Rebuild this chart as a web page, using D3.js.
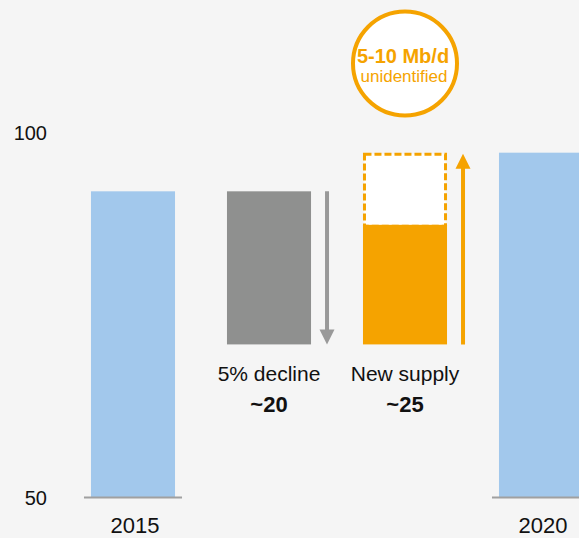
<!DOCTYPE html>
<html>
<head>
<meta charset="utf-8">
<script src="https://cdn.jsdelivr.net/npm/d3@7"></script>
<style>
  body { margin: 0; background: #f5f5f5; }
  svg { display: block; font-family: Arial, "Liberation Sans", sans-serif; }
</style>
</head>
<body>
<script>
// columns of the bridge chart
var steps = ["2015", "decline", "supply", "2020"];
var stepLabels = ["5% decline", "New supply"];
var stepValues = ["~20", "~25"];
// Mb/d
var start2015 = 92,
    declineAmt = 21,
    newSupplyAmt = 16.4,
    unidentifiedAmt = 9.9;
var end2020 = start2015 - declineAmt + newSupplyAmt + unidentifiedAmt;
var yTicks = [50, 100];

var width = 579,
    height = 538;

var orange = "#f5a300",
    blue = "#a2c8ec",
    grey = "#8f908f";

var svg = d3.select("body").append("svg")
    .attr("width", width)
    .attr("height", height);

svg.append("rect")
    .attr("width", width)
    .attr("height", height)
    .attr("fill", "#f5f5f5");

var x = d3.scaleBand()
    .domain(steps)
    .range([65, 609])
    .paddingInner(0.382)
    .paddingOuter(0.191);

var y = d3.scaleLinear()
    .domain([50, 100])
    .range([497.5, 133]);

// y tick labels, no axis line
svg.selectAll(".ytick")
    .data(yTicks)
    .enter().append("text")
    .attr("x", 47)
    .attr("y", d => y(d) + 7)
    .attr("text-anchor", "end")
    .attr("font-size", 20)
    .attr("fill", "#111")
    .text(d => d);

// the two total bars
var totals = [
    {key: "2015", v: start2015},
    {key: "2020", v: end2020}
];

svg.selectAll(".total")
    .data(totals)
    .enter().append("rect")
    .attr("x", d => x(d.key))
    .attr("y", d => y(d.v))
    .attr("width", x.bandwidth())
    .attr("height", d => y(50) - y(d.v))
    .attr("fill", blue);

svg.selectAll(".base")
    .data(totals)
    .enter().append("line")
    .attr("x1", d => x(d.key) - 7)
    .attr("x2", d => x(d.key) + x.bandwidth() + 7)
    .attr("y1", y(50))
    .attr("y2", y(50))
    .attr("stroke", "#a0a0a0")
    .attr("stroke-width", 2);

svg.selectAll(".cat")
    .data(totals)
    .enter().append("text")
    .attr("x", d => x(d.key) + x.bandwidth() / 2 + 2)
    .attr("y", 533)
    .attr("text-anchor", "middle")
    .attr("font-size", 22)
    .attr("fill", "#111")
    .text(d => d.key);

// decline bar
var low = start2015 - declineAmt;
svg.append("rect")
    .attr("x", x("decline"))
    .attr("y", y(start2015))
    .attr("width", x.bandwidth())
    .attr("height", y(low) - y(start2015))
    .attr("fill", grey);

// new supply: solid part + dashed unidentified part
var mid = low + newSupplyAmt;
svg.append("rect")
    .attr("x", x("supply") + 1.5)
    .attr("y", y(end2020) + 1.5)
    .attr("width", x.bandwidth() - 3)
    .attr("height", y(mid) - y(end2020))
    .attr("fill", "#fff")
    .attr("stroke", orange)
    .attr("stroke-width", 3)
    .attr("stroke-dasharray", "7,3");

svg.append("rect")
    .attr("x", x("supply"))
    .attr("y", y(mid))
    .attr("width", x.bandwidth())
    .attr("height", y(low) - y(mid))
    .attr("fill", orange);

// arrows
function arrow(xPos, y0, y1, color) {
    var dir = y1 > y0 ? 1 : -1;
    var headLen = 15;
    svg.append("line")
        .attr("x1", xPos)
        .attr("x2", xPos)
        .attr("y1", y0)
        .attr("y2", y1 - dir * headLen + dir)
        .attr("stroke", color)
        .attr("stroke-width", 4);
    svg.append("path")
        .attr("d", "M" + (xPos - 7.5) + "," + (y1 - dir * headLen) +
            "L" + (xPos + 7.5) + "," + (y1 - dir * headLen) +
            "L" + xPos + "," + y1 + "Z")
        .attr("fill", color);
}

arrow(x("decline") + x.bandwidth() + 16, y(start2015), y(low), "#999");
arrow(x("supply") + x.bandwidth() + 16, y(low), y(end2020) + 1, orange);

// step labels
var stepKeys = ["decline", "supply"];
svg.selectAll(".slab")
    .data(stepKeys)
    .enter().append("text")
    .attr("x", d => x(d) + x.bandwidth() / 2)
    .attr("y", 381)
    .attr("text-anchor", "middle")
    .attr("font-size", 21)
    .attr("fill", "#111")
    .text((d, i) => stepLabels[i]);

svg.selectAll(".sval")
    .data(stepKeys)
    .enter().append("text")
    .attr("x", d => x(d) + x.bandwidth() / 2)
    .attr("y", 412)
    .attr("text-anchor", "middle")
    .attr("font-size", 22)
    .attr("font-weight", "bold")
    .attr("fill", "#111")
    .text((d, i) => stepValues[i]);

// callout circle
var cx = x("supply") + x.bandwidth() / 2;
svg.append("circle")
    .attr("cx", cx)
    .attr("cy", 63.5)
    .attr("r", 52)
    .attr("fill", "#fff")
    .attr("stroke", orange)
    .attr("stroke-width", 4);

svg.append("text")
    .attr("x", cx - 2)
    .attr("y", 63)
    .attr("text-anchor", "middle")
    .attr("font-size", 20)
    .attr("font-weight", "bold")
    .attr("fill", orange)
    .text("5-10 Mb/d");

svg.append("text")
    .attr("x", cx - 1)
    .attr("y", 82)
    .attr("text-anchor", "middle")
    .attr("font-size", 17)
    .attr("fill", orange)
    .text("unidentified");
</script>
</body>
</html>
